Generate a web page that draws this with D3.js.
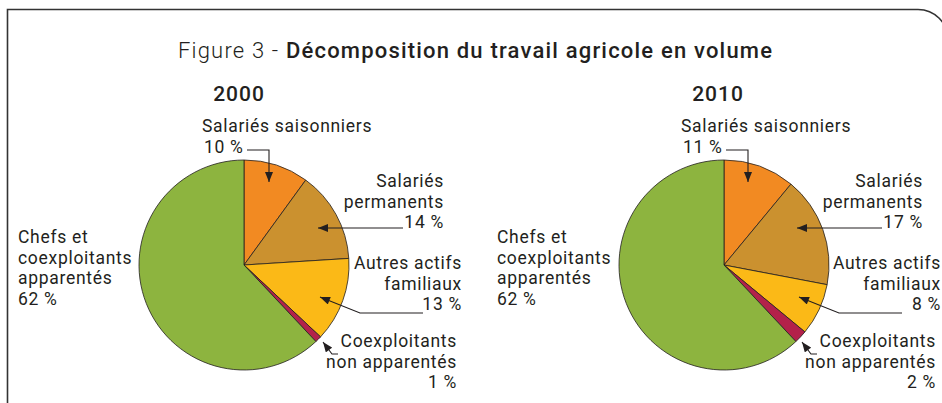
<!DOCTYPE html>
<html><head><meta charset="utf-8">
<script src="https://cdn.jsdelivr.net/npm/d3@7"></script>
<style>
html,body{margin:0;padding:0;background:#fff;}
svg{display:block;}
text{font-family:Roboto,"Liberation Sans",sans-serif;fill:#231F20;}
</style></head>
<body><svg id="c" width="942" height="403"></svg>
<script>
// ---- data ----
const categories = ["Salariés saisonniers","Salariés permanents","Autres actifs familiaux","Coexploitants non apparentés","Chefs et coexploitants apparentés"];
const years = ["2000","2010"];
const values2000 = [10,14,13,1,62];
const values2010 = [11,17,8,2,62];
const colors = ["#F28A22","#CB912F","#FBB917","#B3214A","#8DB43F"];
const labelLines = [
  ["Salariés saisonniers"],
  ["Salariés","permanents"],
  ["Autres actifs","familiaux"],
  ["Coexploitants","non apparentés"],
  ["Chefs et","coexploitants","apparentés"]
];

const svg = d3.select("#c");

// frame
svg.append("path")
  .attr("d","M7.5,410 V9.5 H918 A30,30 0 0 1 948,39.5 V410")
  .attr("fill","none").attr("stroke","#333").attr("stroke-width",1.6);

// title
const title = svg.append("text").attr("x",475).attr("y",58).attr("text-anchor","middle")
  .style("font-size","22px");
title.append("tspan").style("font-weight",300).text("Figure 3 - ");
title.append("tspan").style("font-weight",500).text("Décomposition du travail agricole en volume");
title.attr("textLength",594).attr("lengthAdjust","spacing");

// marker
const defs = svg.append("defs");
defs.append("marker").attr("id","ah").attr("viewBox","0 0 10 8")
  .attr("refX",10).attr("refY",4).attr("markerWidth",11).attr("markerHeight",8)
  .attr("markerUnits","userSpaceOnUse").attr("orient","auto")
  .append("path").attr("d","M0,0 L10,4 L0,8 Z").attr("fill","#231F20");

const R = 105;
const pie = d3.pie().sort(null).value(d=>d);
const arc = d3.arc().innerRadius(0).outerRadius(R);
const fs = 17.5, ls = 0.7;

// label layout relative to pie centre
const labelLayout = [
  {anchor:"start", x:-42, y0:-133},
  {anchor:"end",   x:200, y0:-78},
  {anchor:"end",   x:218, y0:4},
  {anchor:"end",   x:213, y0:82},
  {anchor:"start", x:-226, y0:-22}
];
const lh = 20.7;
// arrow paths relative to centre
const arrows = [
  [[3,-115],[25,-115],[25,-83]],
  [[159,-37],[74,-37]],
  [[179,48],[116,48],[76,32]],
  [[94,89],[88,89],[79,77]],
  null
];

function drawPie(cx, cy, vals, year, dx){
  const g = svg.append("g").attr("transform",`translate(${cx},${cy})`);
  g.selectAll("path.slice").data(pie(vals)).enter().append("path")
    .attr("class","slice")
    .attr("d",arc)
    .attr("fill",(d,i)=>colors[i])
    .attr("stroke","#231F20").attr("stroke-width",0.8).attr("stroke-linejoin","round");
  // year
  g.append("text").attr("x",-5+dx).attr("y",-164).attr("text-anchor","middle")
    .style("font-size","21px").style("font-weight",500).style("letter-spacing","1px").text(year);
  // labels
  vals.forEach((v,i)=>{
    const L = labelLayout[i];
    const lines = labelLines[i].concat([v+" %"]);
    const t = g.append("text").attr("text-anchor",L.anchor)
      .style("font-size",fs+"px").style("letter-spacing",ls+"px");
    lines.forEach((ln,j)=>{
      let x = L.x + dx;
      if(i===0 && j===1) x += 2;
      t.append("tspan").attr("x",x).attr("y",L.y0 + j*lh).text(ln);
    });
    if(arrows[i]){
      const pts = arrows[i].map(p=>[p[0]+dx,p[1]]);
      g.append("path").attr("d",d3.line()(pts)).attr("fill","none")
        .attr("stroke","#231F20").attr("stroke-width",1.1)
        .attr("marker-end","url(#ah)");
    }
  });
}
drawPie(244,265,values2000,years[0],0);
drawPie(724,265,values2010,years[1],-1);
</script>
</body></html>
